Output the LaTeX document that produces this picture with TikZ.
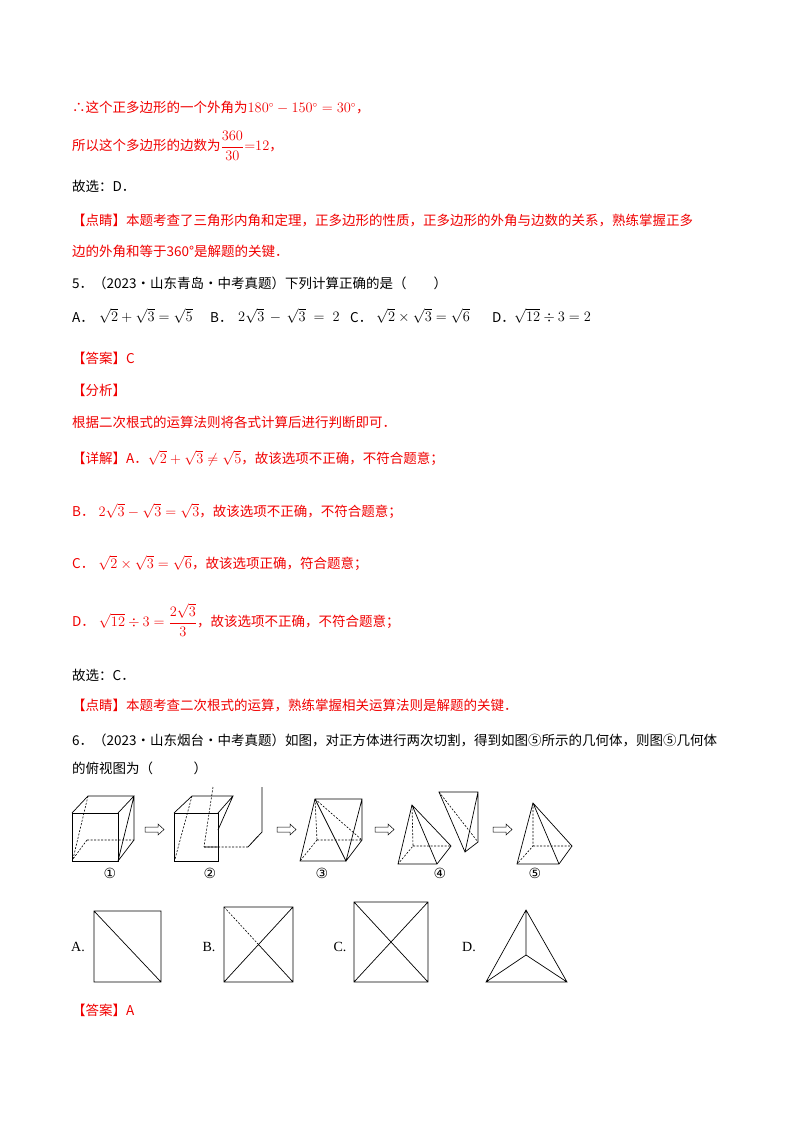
\documentclass[tikz,border=0pt]{standalone}
\usepackage{amsmath}
\usepackage{fontspec}
\setmainfont{Liberation Serif}
\newfontfamily\cjk{Noto Sans CJK SC}
\newfontfamily\dvs{DejaVu Sans}
\definecolor{rd}{RGB}{240,0,0}
\begin{document}
\begin{tikzpicture}[x=1pt,y=-1pt,
  tx/.style={anchor=west,inner sep=0pt,font=\cjk\fontsize{13.5}{14}\selectfont},
  red/.style={text=rd},
  ln/.style={line width=0.7pt},
  hd/.style={line width=0.6pt,dashed,dash pattern=on 2pt off 1.5pt},
  lab/.style={inner sep=0pt,font=\fontsize{14}{14}\selectfont}]
\useasboundingbox (0,0) rectangle (800,1132);
\node[tx,red] (l1) at (72,108) {∴这个正多边形的一个外角为$180^\circ-150^\circ=30^\circ$，};
\node[tx,red] (l2) at (72,146) {所以这个多边形的边数为$\dfrac{360}{30}{=}12$，};
\node[tx] (l3) at (72,186) {故选：D．};
\node[tx,red] (l4) at (72,221) {【点睛】本题考查了三角形内角和定理，正多边形的性质，正多边形的外角与边数的关系，熟练掌握正多};
\node[tx,red] (l5) at (72,251) {边的外角和等于360°是解题的关键．};
\node[tx] (l6) at (72,283) {5．（2023·山东青岛·中考真题）下列计算正确的是（　　）};
\node[tx] (oA) at (72,318) {A．};
\node[tx] (mA) at (99,316) {$\sqrt2+\sqrt3=\sqrt5$};
\node[tx] (oB) at (210,318) {B．};
\node[tx] (mB) at (238,316) {$2\sqrt3\,-\,\sqrt3\;=\;2$};
\node[tx] (oC) at (350,318) {C．};
\node[tx] (mC) at (376,316) {$\sqrt2\times\sqrt3=\sqrt6$};
\node[tx] (oD) at (492,318) {D．};
\node[tx] (mD) at (514,316) {$\sqrt{12}\div3=2$};
\node[tx,red] (l7) at (72,358) {【答案】C};
\node[tx,red] (l8) at (72,390) {【分析】};
\node[tx,red] (l9) at (72,422) {根据二次根式的运算法则将各式计算后进行判断即可．};
\node[tx,red] (l10) at (72,458) {【详解】A．$\sqrt2+\sqrt3\ne\sqrt5$，故该选项不正确，不符合题意；};
\node[tx,red] (l11) at (72,511) {B．$\;2\sqrt3-\sqrt3=\sqrt3$，故该选项不正确，不符合题意；};
\node[tx,red] (l12) at (72,563) {C．$\;\sqrt2\times\sqrt3=\sqrt6$，故该选项正确，符合题意；};
\node[tx,red] (l13) at (72,620) {D．$\;\sqrt{12}\div3=\dfrac{2\sqrt3}{3}$，故该选项不正确，不符合题意；};
\node[tx] (l14) at (72,675) {故选：C．};
\node[tx,red] (l15) at (72,706) {【点睛】本题考查二次根式的运算，熟练掌握相关运算法则是解题的关键．};
\node[tx] (l16) at (72,740) {6．（2023·山东烟台·中考真题）如图，对正方体进行两次切割，得到如图⑤所示的几何体，则图⑤几何体};
\node[tx] (l17) at (72,768) {的俯视图为（　　　）};
% fig 1
\draw[ln] (72,813) rectangle (118,861);
\draw[ln] (72,813)--(88,796)--(134,796)--(118,813) (134,796)--(118,861) (134,796)--(134,840)--(118,861);
\draw[hd] (88,796)--(73,859) (87,840)--(134,840) (87,840)--(73,859);
% fig 2
\draw[ln] (174,813) rectangle (218,861);
\draw[ln] (174,813)--(192,796)--(233,796)--(218,813) (233,796)--(218,830);
\draw[hd] (192,796)--(175,859) (213,787)--(204,847) (204,847)--(248,847);
\draw[ln] (204,847)--(218,847) (248,847)--(262,832)--(262,787) (248,847)--(258,836);
% fig 3
\draw[ln] (315,799)--(300,861)--(346,861)--(362,840)--(362,799)--cycle (315,799)--(346,861)--(362,799);
\draw[hd] (315,799)--(362,840) (317,840)--(362,840) (317,840)--(300,861) (315,799)--(317,840);
% fig 4
\draw[ln] (412,805)--(398,864)--(437,864)--(451,846)--cycle (412,805)--(437,864);
\draw[hd] (412,805)--(413,846)--(398,864) (413,846)--(451,846);
\draw[ln] (439,792)--(478,792)--(478,842)--(465,852)--cycle (478,792)--(465,852);
\draw[hd] (439,792)--(478,842);
% fig 5
\draw[ln] (533,803)--(517,864)--(559,864)--(572,846)--cycle (533,803)--(559,864);
\draw[hd] (533,803)--(533,846)--(517,864) (533,846)--(572,846);
% arrows
\foreach \x in {145,277,375,493}{
  \draw[line width=0.5pt] (\x,827)--(\x+13,827)--(\x+13,824)--(\x+19,829.5)--(\x+13,835)--(\x+13,832)--(\x,832)--cycle;}
\foreach \x/\t in {110/①,210/②,322/③,440/④,535/⑤}{\node[lab,font=\dvs\fontsize{14}{14}\selectfont] at (\x,873) {\t};}
% options
\node[lab] (A) at (78,947) {A.};
\draw[ln] (94,911) rectangle (161,982) (94,911)--(161,982);
\node[lab] (B) at (209,947) {B.};
\draw[ln] (224,907) rectangle (293,982) (224,982)--(293,907) (258.5,944.5)--(293,982);
\draw[hd] (224,907)--(258.5,944.5);
\node[lab] (C) at (340,947) {C.};
\draw[ln] (354,902) rectangle (428,982) (354,902)--(428,982) (354,982)--(428,902);
\node[lab] (D) at (469,947) {D.};
\draw[ln] (526,910)--(486,982)--(567,982)--cycle (526,910)--(526,955) (486,982)--(526,955)--(567,982);
\node[tx,red] (l18) at (72,1010) {【答案】A};
\end{tikzpicture}
\end{document}
